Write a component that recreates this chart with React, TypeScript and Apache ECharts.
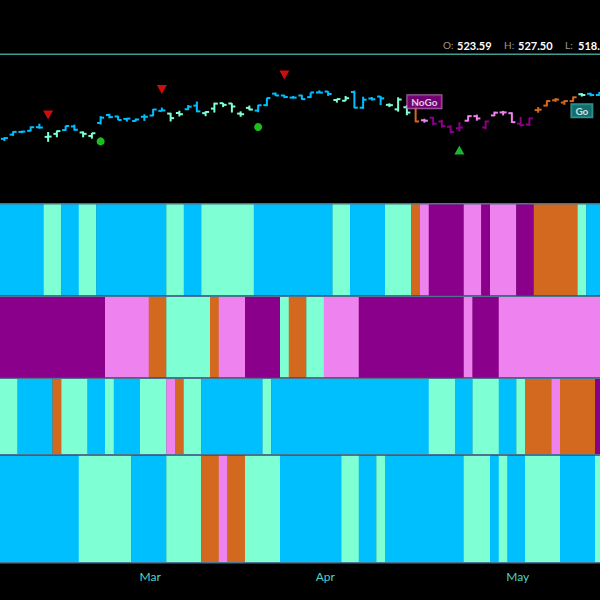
import React, { useEffect, useRef } from "react";
import * as echarts from "echarts";

// Trading days shown (one bar each)
const dates = [
  "2024-02-06","2024-02-07","2024-02-08","2024-02-09","2024-02-12","2024-02-13","2024-02-14","2024-02-15","2024-02-16",
  "2024-02-20","2024-02-21","2024-02-22","2024-02-23","2024-02-26","2024-02-27","2024-02-28","2024-02-29",
  "2024-03-01","2024-03-04","2024-03-05","2024-03-06","2024-03-07","2024-03-08","2024-03-11","2024-03-12","2024-03-13",
  "2024-03-14","2024-03-15","2024-03-18","2024-03-19","2024-03-20","2024-03-21","2024-03-22","2024-03-25","2024-03-26",
  "2024-03-27","2024-03-28",
  "2024-04-01","2024-04-02","2024-04-03","2024-04-04","2024-04-05","2024-04-08","2024-04-09","2024-04-10","2024-04-11",
  "2024-04-12","2024-04-15","2024-04-16","2024-04-17","2024-04-18","2024-04-19","2024-04-22","2024-04-23","2024-04-24",
  "2024-04-25","2024-04-26","2024-04-29","2024-04-30",
  "2024-05-01","2024-05-02","2024-05-03","2024-05-06","2024-05-07","2024-05-08","2024-05-09","2024-05-10","2024-05-13",
  "2024-05-14",
];
const monthNames = ["Jan","Feb","Mar","Apr","May","Jun","Jul","Aug","Sep","Oct","Nov","Dec"];

const opens = [
  493.5,496.3,498.1,498.8,501.2,494.8,496.8,499.3,501.7,497.7,495.4,504.0,509.3,508.3,506.7,505.3,508.1,
  508.9,512.0,510.2,510.6,513.1,515.5,510.5,513.5,517.1,516.9,510.2,514.0,512.2,515.8,523.4,522.2,520.8,522.2,521.1,524.2,
  524.8,519.2,518.7,524.5,514.1,520.2,521.5,516.0,513.0,514.4,516.5,505.8,507.5,505.0,501.5,500.5,505.5,508.5,501.0,509.0,511.0,510.5,
  503.5,503.0,512.5,515.5,519.0,517.5,518.5,523.0,523.3,522.5,
];
const highs = [
  494.5,498.5,498.8,501.6,503.5,498.0,499.0,502.2,502.9,498.4,497.4,508.5,510.1,508.7,507.2,506.9,509.7,
  513.3,514.2,510.7,512.1,515.9,518.2,511.8,517.4,517.3,517.1,511.7,515.5,516.0,520.6,524.1,522.6,521.9,522.6,524.2,525.6,
  525.0,520.0,521.9,525.4,521.4,521.2,521.8,517.0,521.0,515.8,517.0,506.8,508.0,506.0,502.5,504.5,509.0,509.5,505.5,511.5,512.0,511.0,
  508.0,507.5,514.5,519.0,520.5,519.0,521.5,523.8,524.0,524.5,
];
const lows = [
  492.0,495.5,497.3,498.5,500.2,491.5,494.5,498.8,498.9,494.5,493.6,503.0,507.1,505.9,504.9,505.0,505.4,
  508.6,511.8,505.0,508.3,512.5,511.1,508.5,510.9,514.5,510.9,508.1,512.4,511.1,515.1,521.9,520.4,520.3,519.4,520.5,523.8,
  521.9,517.5,518.6,513.8,513.4,518.9,515.9,514.5,511.5,509.1,504.5,504.2,502.5,501.0,497.0,498.3,505.0,505.5,499.8,508.5,509.0,504.0,
  501.8,502.0,510.8,515.0,518.0,516.0,518.0,521.5,521.7,522.0,
];
const closes = [
  494.0,498.1,498.3,501.2,501.0,495.0,498.6,502.0,499.5,496.8,497.2,507.5,507.9,506.0,506.9,506.3,508.1,
  512.9,512.3,507.2,509.8,514.8,511.7,511.3,516.8,516.0,514.9,509.8,512.9,515.7,520.5,522.2,521.2,520.8,519.8,524.2,524.1,
  523.2,519.8,520.4,514.1,519.4,519.7,520.3,515.8,519.5,510.9,505.0,505.5,503.5,502.0,498.0,501.0,508.5,507.0,505.0,510.8,511.0,504.5,
  502.5,507.0,512.8,518.5,519.5,518.5,521.0,522.5,522.5,524.0,
];

// GoNoGo states per bar: B strong go, A weak go, O amber, P weak nogo, M strong nogo
const trendRow = "BBBBBAABBAABBBBBBBBAABBAAAAAABBBBBBBBBAABBBBAAAOPMMMMPPMPPPMMOOOOOABB".split("");
const oscRow   = "MMMMMMMMMMMMPPPPPOOAAAAAOPPPMMMMAOOAAPPPPMMMMMMMMMMMMPMMMPPPPPPPPPPPP".split("");
const row3     = "AABBBBOAAABBABBBAAAPOAABBBBBBBABBBBBBBBBBBBBBBBBBAAABBAAABBAOOOPOOOOMM".split("");
const row4     = "BBBBBBBBBAAAAAABBBBAAAAOOPOOAAAABBBBBBBAABBABBBBBBBBBAAABABBAAAABBBBA".split("");

const stateColors: Record<string, string> = {
  B: "#00BFFF",
  A: "#7FFFD4",
  O: "#D2691E",
  P: "#EE82EE",
  M: "#8B008B",
};

// Signals on the price panel
const sellBars = [5, 18, 32];
const sellLevels = [509.3, 526.2, 535.8];
const dotBars = [11, 29];
const dotLevels = [491.8, 501.3];
const buyBars = [52];
const buyLevels = [486.1];
const tagBars = [48, 66];
const tagLevels = [518.1, 512.1];
const tagTexts = ["NoGo", "Go"];

const header = [
  { label: "O:", value: "523.59" },
  { label: "H:", value: "527.50" },
  { label: "L:", value: "518." },
];

const BAR_PX = 8.75;
const NBARS = dates.length;

function runsOf(row: string[]) {
  const runs: [number, number, string][] = [];
  let s = 0;
  for (let i = 1; i <= row.length; i++) {
    if (i === row.length || row[i] !== row[s]) {
      runs.push([s, i, row[s]]);
      s = i;
    }
  }
  return runs;
}

export default function App() {
  const ref = useRef<HTMLDivElement>(null);

  useEffect(() => {
    if (!ref.current) return;
    const chart = echarts.init(ref.current, undefined, { renderer: "svg" });

    const monthLabel: Record<number, string> = {};
    for (let i = 1; i < dates.length; i++) {
      const m = Number(dates[i].slice(5, 7));
      const pm = Number(dates[i - 1].slice(5, 7));
      if (m !== pm) monthLabel[i] = monthNames[m - 1];
    }

    const gridWidth = NBARS * BAR_PX;
    const gridBase = { left: 0, width: gridWidth, outerBoundsMode: "none", containLabel: false };
    const grids = [
      { ...gridBase, top: 55, height: 145 },
      { ...gridBase, top: 204, height: 91.5 },
      { ...gridBase, top: 297, height: 80.5 },
      { ...gridBase, top: 378.5, height: 75.5 },
      { ...gridBase, top: 455.5, height: 106.5 },
    ];

    const xAxes = grids.map((_, gi) => ({
      type: "value",
      gridIndex: gi,
      min: 0,
      max: NBARS,
      interval: 1,
      axisLine: { show: false },
      axisTick: { show: false },
      splitLine: { show: false },
      axisLabel:
        gi === 4
          ? {
              show: true,
              color: "#4fd3c4",
              fontSize: 12,
              fontFamily: "Lato",
              margin: 8,
              padding: [0, 0, 0, 3],
              formatter: (v: number) => monthLabel[Math.round(v)] || "",
            }
          : { show: false },
    }));

    const yAxes = grids.map((_, gi) =>
      gi === 0
        ? { type: "value", gridIndex: 0, min: 453, max: 549, show: false, splitLine: { show: false } }
        : { type: "value", gridIndex: gi, min: 0, max: 1, show: false, splitLine: { show: false } }
    );

    const bandSeries = (row: string[], gi: number) => {
      const runs = runsOf(row);
      return {
        type: "custom",
        xAxisIndex: gi,
        yAxisIndex: gi,
        silent: true,
        data: runs.map((r) => [r[0], r[1]]),
        encode: { x: [0, 1] },
        renderItem: (params: any, api: any) => {
          const s = runs[params.dataIndex][2];
          const p0 = api.coord([api.value(0), 1]);
          const p1 = api.coord([api.value(1), 0]);
          return {
            type: "rect",
            shape: { x: p0[0], y: p0[1], width: p1[0] - p0[0] + 0.3, height: p1[1] - p0[1] },
            style: { fill: stateColors[s] },
          };
        },
      };
    };

    const ohlcData = dates.map((_, i) => [i, opens[i], highs[i], lows[i], closes[i]]);

    const option: any = {
      animation: false,
      backgroundColor: "#000000",
      grid: grids,
      xAxis: xAxes,
      yAxis: yAxes,
      graphic: [
        { type: "rect", shape: { x: 0, y: 53.5, width: 600, height: 1.5 }, style: { fill: "#3f9d95" } },
        ...[203, 295.5, 377.5, 454, 562].map((y) => ({
          type: "rect",
          shape: { x: 0, y, width: 600, height: 1.4 },
          style: { fill: "#4c7390" },
          z: 100,
        })),
        ...header.flatMap((h, k) => {
          const lx = [443, 504, 565][k];
          const vx = [457, 518, 578][k];
          return [
            {
              type: "text",
              x: lx,
              y: 45,
              style: { text: h.label, fill: "#9a9a9a", font: "10px Lato", verticalAlign: "middle" },
            },
            {
              type: "text",
              x: vx,
              y: 45,
              style: { text: h.value, fill: "#ffffff", font: "bold 11px Lato", verticalAlign: "middle" },
            },
          ];
        }),
      ],
      series: [
        {
          type: "custom",
          xAxisIndex: 0,
          yAxisIndex: 0,
          silent: true,
          data: ohlcData,
          encode: { x: 0, y: [1, 2, 3, 4] },
          renderItem: (params: any, api: any) => {
            const i = api.value(0);
            const xc = api.coord([i + 0.5, 0])[0];
            const yo = api.coord([i + 0.5, api.value(1)])[1];
            const yh = api.coord([i + 0.5, api.value(2)])[1];
            const yl = api.coord([i + 0.5, api.value(3)])[1];
            const yc = api.coord([i + 0.5, api.value(4)])[1];
            const color = stateColors[trendRow[i]];
            const st = { stroke: color, lineWidth: 2 };
            return {
              type: "group",
              children: [
                { type: "line", shape: { x1: xc, y1: yh, x2: xc, y2: yl }, style: st },
                { type: "line", shape: { x1: xc - 3.5, y1: yo, x2: xc, y2: yo }, style: st },
                { type: "line", shape: { x1: xc, y1: yc, x2: xc + 3.5, y2: yc }, style: st },
              ],
            };
          },
        },
        {
          type: "scatter",
          xAxisIndex: 0,
          yAxisIndex: 0,
          symbol: "triangle",
          symbolRotate: 180,
          symbolSize: [10, 9],
          itemStyle: { color: "#ff1010" },
          data: sellBars.map((b, k) => [b + 0.5, sellLevels[k]]),
          silent: true,
        },
        {
          type: "scatter",
          xAxisIndex: 0,
          yAxisIndex: 0,
          symbol: "circle",
          symbolSize: 8,
          itemStyle: { color: "#22ee22" },
          data: dotBars.map((b, k) => [b + 0.5, dotLevels[k]]),
          silent: true,
        },
        {
          type: "scatter",
          xAxisIndex: 0,
          yAxisIndex: 0,
          symbol: "triangle",
          symbolSize: [10, 9],
          itemStyle: { color: "#22e23e" },
          data: buyBars.map((b, k) => [b + 0.5, buyLevels[k]]),
          silent: true,
        },
        {
          type: "scatter",
          xAxisIndex: 0,
          yAxisIndex: 0,
          symbolSize: 0,
          silent: true,
          z: 10,
          data: tagBars.map((b, k) => ({
            value: [b + 0.5, tagLevels[k]],
            label: {
              show: true,
              position: "inside",
              formatter: tagTexts[k],
              color: "#ffffff",
              fontFamily: "Lato",
              fontWeight: "bold",
              fontSize: 10,
              backgroundColor: tagTexts[k] === "NoGo" ? "#8B008B" : "#168a8a",
              borderColor: tagTexts[k] === "NoGo" ? "#c77dc7" : "#4fb0b0",
              borderWidth: 1,
              padding: [2, 4, 1, 4],
            },
          })),
        },
        bandSeries(trendRow, 1),
        bandSeries(oscRow, 2),
        bandSeries(row3, 3),
        bandSeries(row4, 4),
      ],
    };

    chart.setOption(option);
    return () => chart.dispose();
  }, []);

  return (
    <div
      ref={ref}
      style={{ position: "fixed", left: 0, top: 0, width: 600, height: 600, background: "#000" }}
    />
  );
}
